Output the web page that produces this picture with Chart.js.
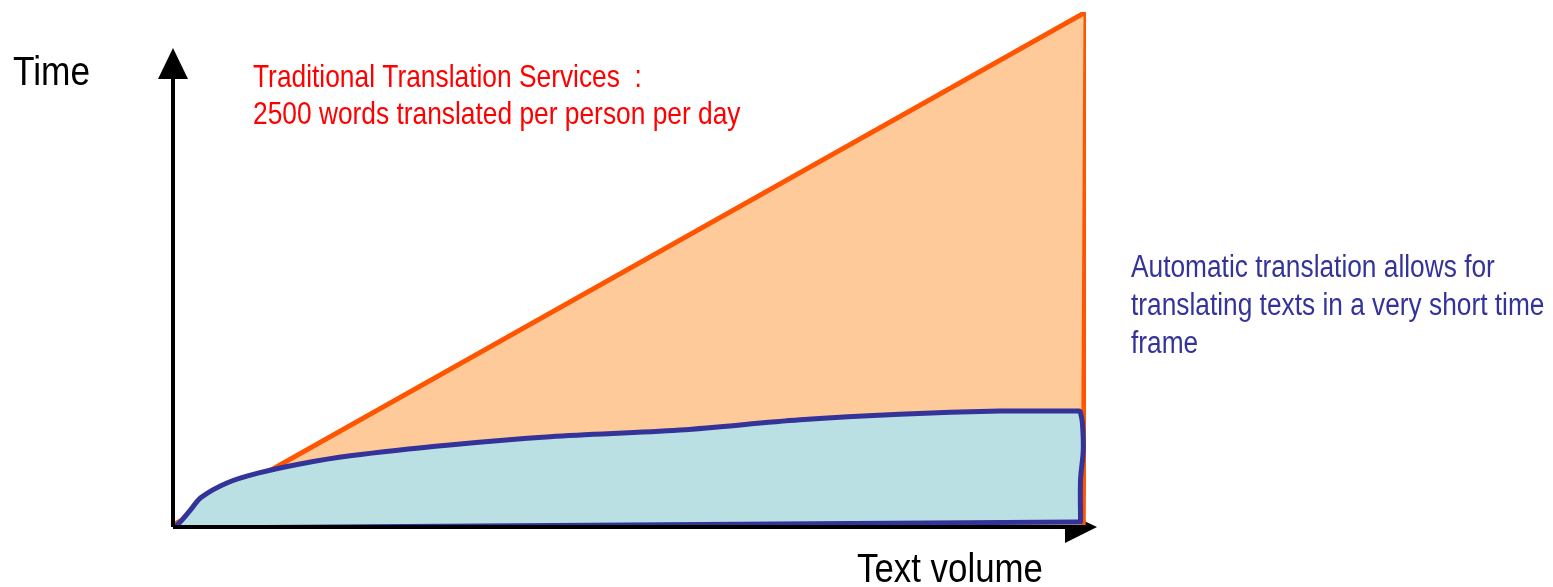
<!DOCTYPE html>
<html>
<head>
    <title>Translation time</title>
    <script src="https://cdn.jsdelivr.net/npm/chart.js"></script>
    <style>
        html, body { margin: 0; padding: 0; background: #fff; }
        #wrap { width: 1553px; height: 587px; }
    </style>
</head>
<body>
    <div id="wrap"><canvas id="chart"></canvas></div>
    <script>
        // text volume (x) and time (y), both on a 0..100 scale
        const traditionalX = [0, 100, 99.7];
        const traditionalY = [0, 100, 0];

        const automaticX = [0.2, 0.3, 1.0, 1.9, 3.1, 5.9, 9.3, 13.9, 19.4, 30.3, 41.3, 55.5, 68.7, 79.6, 90.6, 99.0, 99.3, 99.4, 99.6, 99.7, 99.4, 99.4, 99.4, 99.1, 0.4, 0.2];
        const automaticY = [-0.6, -0.3, 1.0, 2.9, 5.4, 8.2, 10.1, 11.9, 13.5, 15.6, 17.2, 18.5, 20.5, 21.6, 22.2, 22.2, 22.2, 21.9, 20.0, 14.6, 8.8, 0.9, 0.6, 0.6, -0.6, -0.6];

        const yTitle = 'Time';
        const xTitle = 'Text volume';
        const redNote = ['Traditional Translation Services  :', '2500 words translated per person per day'];
        const blueNote = ['Automatic translation allows for', 'translating texts in a very short time', 'frame'];

        const toPoints = (xs, ys) => xs.map((x, i) => ({ x: x, y: ys[i] }));

        const font = '"Liberation Sans", Arial, sans-serif';

        function narrowText(ctx, text, x, y, squeeze) {
            ctx.save();
            ctx.translate(x, y);
            ctx.scale(squeeze, 1);
            ctx.fillText(text, 0, 0);
            ctx.restore();
        }

        const axes = {
            id: 'axes',
            beforeDatasetsDraw(chart) {
                const ctx = chart.ctx;
                const x0 = chart.scales.x.getPixelForValue(0), y0 = chart.scales.y.getPixelForValue(0) + 2;
                ctx.save();
                ctx.strokeStyle = '#000';
                ctx.fillStyle = '#000';
                ctx.lineWidth = 4;
                ctx.beginPath();
                ctx.moveTo(x0, y0);
                ctx.lineTo(1070, y0);
                ctx.stroke();
                ctx.beginPath();
                ctx.moveTo(1097, y0);
                ctx.lineTo(1065, y0 - 15);
                ctx.lineTo(1065, y0 + 16);
                ctx.closePath();
                ctx.fill();
                ctx.restore();
            },
            afterDatasetsDraw(chart) {
                const ctx = chart.ctx;
                const x0 = chart.scales.x.getPixelForValue(0), y0 = chart.scales.y.getPixelForValue(0) + 2;
                ctx.save();
                ctx.fillStyle = '#000';
                ctx.strokeStyle = '#000';
                ctx.lineWidth = 4;
                ctx.beginPath();
                ctx.moveTo(x0, y0);
                ctx.lineTo(x0, 72);
                ctx.stroke();
                ctx.beginPath();
                ctx.moveTo(x0, 48);
                ctx.lineTo(x0 - 15, 79);
                ctx.lineTo(x0 + 15, 79);
                ctx.closePath();
                ctx.fill();

                ctx.textBaseline = 'alphabetic';
                ctx.font = '41px ' + font;
                narrowText(ctx, yTitle, 13, 85, 0.86);
                narrowText(ctx, xTitle, 857, 582, 0.85);

                ctx.fillStyle = '#ff0000';
                ctx.font = '32px ' + font;
                redNote.forEach((t, i) => narrowText(ctx, t, 253, 87 + i * 37, 0.823));

                ctx.fillStyle = '#333399';
                ctx.font = '31px ' + font;
                blueNote.forEach((t, i) => narrowText(ctx, t, 1131, 277 + i * 38, 0.848));
                ctx.restore();
            }
        };

        new Chart(document.getElementById('chart'), {
            type: 'line',
            data: {
                datasets: [{
                    label: 'Automatic translation',
                    data: toPoints(automaticX, automaticY),
                    borderColor: '#333399',
                    backgroundColor: '#bae0e3',
                    borderWidth: 5,
                    borderJoinStyle: 'round',
                    borderCapStyle: 'round',
                    pointRadius: 0,
                    tension: 0.35,
                    fill: 'shape',
                    order: 1
                }, {
                    label: 'Traditional translation',
                    data: toPoints(traditionalX, traditionalY),
                    borderColor: '#ff5500',
                    backgroundColor: '#ffca99',
                    borderWidth: 5,
                    borderJoinStyle: 'round',
                    pointRadius: 0,
                    tension: 0,
                    fill: 'shape',
                    order: 2
                }]
            },
            options: {
                responsive: true,
                maintainAspectRatio: false,
                animation: false,
                layout: { padding: { left: 173, right: 467, top: 12, bottom: 62 } },
                plugins: { legend: { display: false }, tooltip: { enabled: false } },
                scales: {
                    x: { type: 'linear', min: 0, max: 100, display: false },
                    y: { type: 'linear', min: 0, max: 100, display: false }
                }
            },
            plugins: [axes]
        });
    </script>
</body>
</html>
